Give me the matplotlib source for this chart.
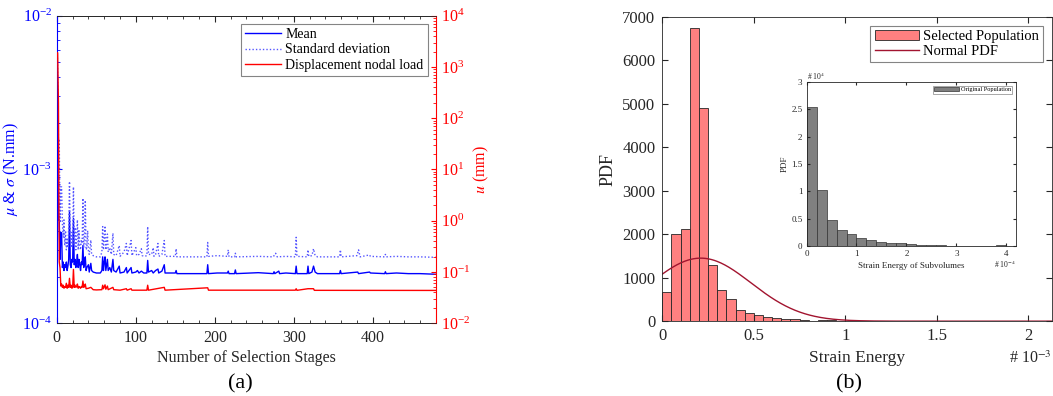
import numpy as np
import matplotlib
matplotlib.use("Agg")
import matplotlib.pyplot as plt
from matplotlib.patches import Patch
from matplotlib.lines import Line2D
from matplotlib.ticker import MultipleLocator, LogLocator, NullFormatter

plt.rcParams['font.family'] = ['Liberation Serif', 'DejaVu Serif']
plt.rcParams['mathtext.fontset'] = 'stix'

# ---- (a) convergence over selection stages: (stage, value) ----
# mean and std in units of 1e-4 N.mm
mean_pts = [(0, 60), (1, 20), (2, 4.7), (3, 4.7), (4, 2.6), (5, 3.9), (6, 3.85), (7, 2.3), (8, 2.5),
            (9, 2.2), (10, 2.4), (11, 2.3), (12, 2.5), (13, 2.2), (14, 2.35), (15, 2.6), (16, 5.3),
            (17, 2.4), (18, 2.3), (19, 2.6), (20, 2.5), (21, 4.8), (22, 2.4), (23, 2.6), (24, 2.3),
            (25, 2.5), (26, 2.8), (27, 2.3), (28, 2.6), (29, 2.4), (30, 2.2), (31, 2.5), (32, 2.4),
            (33, 3.2), (34, 2.3), (35, 2.5), (36, 2.7), (37, 2.2), (38, 2.3), (40, 2.4), (41, 2.15),
            (43, 2.45), (44, 2.2), (46, 2.15), (50, 2.12), (55, 2.12), (57, 2.2), (58, 2.7), (59, 2.2),
            (60, 2.5), (61, 2.7), (62, 2.2), (64, 2.6), (65, 2.2), (67, 2.3), (69, 2.15), (71, 2.6),
            (72, 2.2), (75, 2.15), (79, 2.35), (80, 2.12), (85, 2.15), (88, 2.3), (89, 2.12), (94, 2.3),
            (95, 2.12), (100, 2.15), (102, 2.2), (104, 2.12), (107, 2.18), (110, 2.12), (114, 2.12),
            (115, 2.56), (116, 2.15), (120, 2.2), (122, 2.12), (125, 2.2), (128, 2.25), (129, 2.12),
            (133, 2.18), (136, 2.4), (137, 2.12), (150, 2.12), (151, 2.2), (152, 2.1), (190, 2.1),
            (191, 2.4), (192, 2.1), (203, 2.12), (216, 2.12), (217, 2.18), (218, 2.1), (225, 2.1),
            (226, 2.22), (227, 2.1), (255, 2.13), (274, 2.1), (275, 2.16), (276, 2.1), (281, 2.18),
            (282, 2.1), (290, 2.12), (302, 2.1), (303, 2.35), (304, 2.1), (317, 2.1), (318, 2.35),
            (319, 2.1), (323, 2.15), (325, 2.35), (327, 2.15), (330, 2.1), (358, 2.1), (359, 2.2),
            (360, 2.1), (381, 2.15), (382, 2.1), (396, 2.15), (397, 2.12), (415, 2.1), (416, 2.16),
            (417, 2.1), (430, 2.12), (445, 2.1), (460, 2.1), (480, 2.08)]

std_pts = [(0, 90), (1, 40), (2, 15.5), (3, 15.5), (4, 4.5), (5, 7.7), (6, 7.7), (7, 4.5), (8, 3.6),
           (9, 4.7), (10, 3.2), (11, 4.0), (12, 3.0), (13, 3.5), (14, 3.1), (15, 4.2), (16, 8.35),
           (17, 3.6), (18, 3.1), (19, 3.9), (20, 3.2), (21, 7.7), (22, 3.3), (23, 4.2), (24, 3.0),
           (25, 3.6), (26, 4.7), (27, 3.0), (28, 4.0), (29, 3.2), (30, 3.0), (31, 3.5), (32, 3.3),
           (33, 6.5), (34, 3.1), (35, 3.6), (36, 6.3), (37, 3.0), (38, 3.1), (39, 4.0), (40, 2.9),
           (41, 2.8), (43, 3.47), (44, 2.8), (46, 2.75), (50, 2.7), (55, 2.7), (57, 2.9), (58, 4.25),
           (59, 3.0), (60, 3.6), (61, 4.3), (62, 3.0), (64, 3.8), (65, 2.9), (67, 3.1), (69, 2.8),
           (71, 3.85), (72, 2.8), (75, 2.75), (79, 3.2), (80, 2.72), (85, 2.9), (88, 3.3), (89, 2.75),
           (94, 3.45), (95, 2.75), (100, 3.1), (101, 2.75), (104, 2.8), (107, 3.05), (108, 2.75),
           (111, 2.72), (114, 2.75), (115, 4.25), (116, 2.8), (120, 2.8), (122, 3.1), (123, 2.72),
           (125, 2.8), (128, 3.3), (129, 2.72), (133, 2.8), (136, 3.45), (137, 2.72), (150, 2.72),
           (151, 3.05), (152, 2.7), (190, 2.7), (191, 3.35), (192, 2.72), (203, 2.75), (216, 2.72),
           (217, 3.0), (218, 2.7), (225, 2.7), (226, 2.85), (227, 2.7), (255, 2.72), (274, 2.7),
           (277, 2.85), (279, 2.7), (290, 2.72), (302, 2.7), (303, 3.62), (304, 2.72), (317, 2.7),
           (318, 3.0), (319, 2.72), (323, 2.75), (325, 3.05), (327, 2.75), (330, 2.7), (358, 2.7),
           (359, 3.0), (360, 2.7), (380, 2.75), (382, 3.0), (384, 2.7), (396, 2.78), (397, 2.72),
           (415, 2.7), (416, 2.8), (417, 2.7), (430, 2.72), (445, 2.7), (460, 2.7), (480, 2.68)]

# displacement nodal load, mm
u_pts = [(0, 1900), (1, 1900), (2, 200), (3, 0.158), (4, 0.12), (5, 0.053), (6, 0.058), (7, 0.05),
         (8, 0.055), (9, 0.048), (10, 0.052), (11, 0.05), (12, 0.06), (13, 0.048), (14, 0.055),
         (15, 0.05), (16, 0.075), (17, 0.05), (18, 0.055), (19, 0.048), (20, 0.05), (21, 0.112),
         (22, 0.05), (23, 0.055), (24, 0.05), (25, 0.052), (26, 0.058), (27, 0.048), (28, 0.052),
         (29, 0.05), (30, 0.048), (31, 0.052), (32, 0.05), (33, 0.0665), (34, 0.05), (35, 0.052),
         (36, 0.058), (37, 0.047), (40, 0.048), (43, 0.05), (46, 0.045), (50, 0.0445), (57, 0.045),
         (58, 0.055), (59, 0.047), (61, 0.056), (62, 0.046), (64, 0.053), (65, 0.045), (71, 0.05),
         (72, 0.045), (80, 0.044), (88, 0.047), (89, 0.044), (94, 0.047), (95, 0.044), (114, 0.044),
         (115, 0.055), (116, 0.044), (136, 0.05), (137, 0.044), (191, 0.049), (192, 0.044),
         (302, 0.044), (303, 0.047), (304, 0.0437), (318, 0.047), (325, 0.047), (326, 0.0437),
         (480, 0.0435)]

# ---- (b) histogram of selected population (strain energy in 1e-3) ----
bin_width = 0.05
sel_counts = [666, 2000, 2113, 6753, 4916, 1294, 712, 505, 253, 184, 138, 92, 69, 54, 46, 38,
              12, 25, 20, 15, 10, 8, 6, 5, 4, 3]
pdf_mu = 0.21      # x 1e-3
pdf_sigma = 0.275  # x 1e-3

# inset: original population (x in 1e-4, pdf in 1e4)
orig_width = 0.2
orig_counts = [2.54, 1.02, 0.475, 0.30, 0.21, 0.15, 0.11, 0.08, 0.06, 0.045, 0.03, 0.025,
               0.01, 0.008, 0.005, 0.004, 0.003, 0.002, 0.002, 0.01]

fig = plt.figure(figsize=(10.53, 3.96), dpi=100)
gray = '0.15'

# ---------------- (a) ----------------
ax = fig.add_axes([0.054, 0.184, 0.360, 0.776])
ax2 = ax.twinx()

mx, my = zip(*mean_pts)
sx, sy = zip(*std_pts)
ux, uy = zip(*u_pts)
ax.plot(mx, np.array(my) * 1e-4, color='blue', lw=1.0)
ax.plot(sx, np.array(sy) * 1e-4, color='#5555ff', lw=1.0, ls=(0, (1, 1.5)))
ax2.plot(ux, uy, color='red', lw=1.0)

ax.set_yscale('log')
ax.set_ylim(1e-4, 1e-2)
ax2.set_yscale('log')
ax2.set_ylim(1e-2, 1e4)
ax.set_xlim(0, 480)
ax.xaxis.set_major_locator(MultipleLocator(100))
ax.xaxis.set_minor_locator(MultipleLocator(20))

ax.tick_params(axis='x', which='both', direction='in', top=True, colors=gray, labelsize=11.5,
               labelcolor='0.15')
ax.tick_params(axis='x', which='major', length=4, pad=5)
ax.tick_params(axis='x', which='minor', length=2)
ax.tick_params(axis='y', which='both', direction='in', colors='blue', labelsize=11.5)
ax2.tick_params(axis='y', which='both', direction='in', colors='red', labelsize=11.5)
ax2.yaxis.set_minor_locator(LogLocator(subs=np.arange(2, 10)))
ax2.yaxis.set_minor_formatter(NullFormatter())

ax.spines['left'].set_color('blue')
ax.spines['right'].set_visible(False)
ax2.spines['left'].set_visible(False)
ax2.spines['right'].set_color('red')
for a in (ax, ax2):
    a.spines['top'].set_color(gray)
    a.spines['bottom'].set_color(gray)
    a.spines['top'].set_linewidth(0.6)
    a.spines['bottom'].set_linewidth(0.6)

ax.set_xlabel('Number of Selection Stages', fontsize=11.5, color=gray, labelpad=3)
ax.set_ylabel(r'$\mu$ & $\sigma$ (N.mm)', fontsize=11.5, color='blue', labelpad=1)
ax2.set_ylabel(r'$u$ (mm)', fontsize=11.5, color='red', labelpad=1)

handles = [Line2D([], [], color='blue', lw=1.0),
           Line2D([], [], color='#5555ff', lw=1.0, ls=(0, (1, 1.5))),
           Line2D([], [], color='red', lw=1.0)]
leg = ax2.legend(handles, ['Mean', 'Standard deviation', 'Displacement nodal load'],
                 loc='upper right', fontsize=10, frameon=True, fancybox=False,
                 handlelength=2.6, handletextpad=0.3, borderpad=0.3, labelspacing=0.15,
                 borderaxespad=0.6)
leg.get_frame().set_edgecolor('0.4')
leg.get_frame().set_linewidth(0.8)

fig.text(0.228, 0.03, '(a)', fontsize=16, ha='center', va='center')

# ---------------- (b) ----------------
bx = fig.add_axes([0.629, 0.189, 0.370, 0.768])
edges = np.arange(len(sel_counts)) * bin_width
bx.bar(edges, sel_counts, width=bin_width, align='edge', color='#ff8080',
       edgecolor='0.15', linewidth=0.6)
xs = np.linspace(0, 2.13, 400)
pdf = np.exp(-0.5 * ((xs - pdf_mu) / pdf_sigma) ** 2) / (pdf_sigma * np.sqrt(2 * np.pi)) * 1000
bx.plot(xs, pdf, color='#a2142f', lw=1.0)
bx.set_xlim(0, 2.13)
bx.set_ylim(0, 7000)
bx.xaxis.set_major_locator(MultipleLocator(0.5))
bx.yaxis.set_major_locator(MultipleLocator(1000))
bx.xaxis.set_major_formatter(plt.FuncFormatter(lambda v, p: f'{v:g}'))
bx.tick_params(which='both', direction='in', top=True, right=True, colors=gray,
               labelsize=12, length=4, pad=5)
for s in bx.spines.values():
    s.set_color(gray)
    s.set_linewidth(0.6)
bx.set_xlabel('Strain Energy', fontsize=12.5, color=gray, labelpad=4)
bx.set_ylabel('PDF', fontsize=13, color=gray, labelpad=4)
bx.text(1.0, -0.122, r'# 10$^{-3}$', transform=bx.transAxes, ha='right', va='center',
        fontsize=11.5, color=gray)
bh = [Patch(facecolor='#ff8080', edgecolor='0.15', linewidth=0.6),
      Line2D([], [], color='#a2142f', lw=1.0)]
lb = bx.legend(bh, ['Selected Population', 'Normal PDF'], loc='upper right', fontsize=10.5,
               frameon=True, fancybox=False, handlelength=3.0, handletextpad=0.3,
               borderpad=0.3, labelspacing=0.1, borderaxespad=0.6)
lb.get_frame().set_edgecolor('0.4')
lb.get_frame().set_linewidth(0.8)

fig.text(0.806, 0.03, '(b)', fontsize=16, ha='center', va='center')

# ---------------- inset ----------------
ix = fig.add_axes([0.766, 0.379, 0.199, 0.414])
iedges = np.arange(len(orig_counts)) * orig_width
ix.bar(iedges, orig_counts, width=orig_width, align='edge', color='#808080',
       edgecolor='0.2', linewidth=0.5)
ix.set_xlim(0, 4.2)
ix.set_ylim(0, 3)
ix.xaxis.set_major_locator(MultipleLocator(1))
ix.yaxis.set_major_locator(MultipleLocator(0.5))
ix.xaxis.set_major_formatter(plt.FuncFormatter(lambda v, p: f'{v:g}'))
ix.yaxis.set_major_formatter(plt.FuncFormatter(lambda v, p: f'{v:g}'))
ix.tick_params(which='both', direction='in', top=True, right=True, colors=gray,
               labelsize=6.5, length=2.5, pad=3)
for s in ix.spines.values():
    s.set_color(gray)
    s.set_linewidth(0.6)
ix.set_xlabel('Strain Energy of Subvolumes', fontsize=6.5, color=gray, labelpad=3)
ix.set_ylabel('PDF', fontsize=6.5, color=gray, labelpad=2)
ix.text(0.0, 1.0, r'# 10$^{4}$', transform=ix.transAxes, ha='left', va='bottom',
        fontsize=5.5, color=gray)
ix.text(1.0, -0.115, r'# 10$^{-4}$', transform=ix.transAxes, ha='right', va='center',
        fontsize=5.5, color=gray)
li = ix.legend([Patch(facecolor='#808080', edgecolor='0.2', linewidth=0.5)],
               ['Original Population'], loc='upper right', fontsize=4.5, frameon=True,
               fancybox=False, handlelength=4, handletextpad=0.3, borderpad=0.2,
               borderaxespad=0.6)
li.get_frame().set_edgecolor('0.4')
li.get_frame().set_linewidth(0.5)

fig.savefig('out.png', dpi=100)
